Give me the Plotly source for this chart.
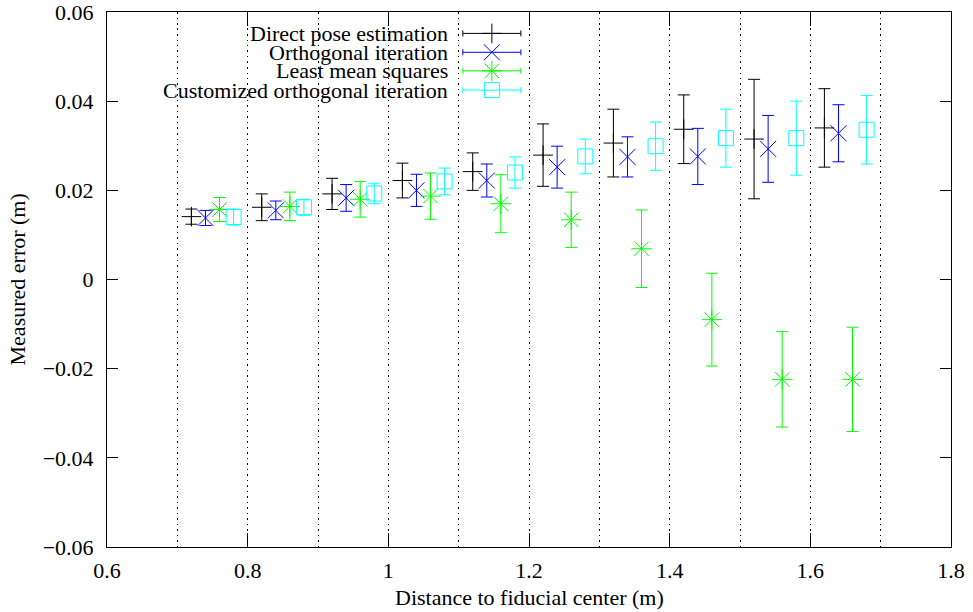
import plotly.graph_objects as go

# ---- data ----
distances = [0.7, 0.8, 0.9, 1.0, 1.1, 1.2, 1.3, 1.4, 1.5, 1.6]
series_names = ["Direct pose estimation", "Orthogonal iteration",
                "Least mean squares", "Customized orthogonal iteration"]
series_offsets = [0.02, 0.04, 0.06, 0.08]

dpe_mean = [0.0141, 0.0162, 0.0192, 0.0222, 0.0242, 0.0279, 0.0306, 0.0337, 0.0315, 0.0340]
dpe_err = [0.0017, 0.0030, 0.0035, 0.0039, 0.0042, 0.0070, 0.0076, 0.0077, 0.0134, 0.0088]
oi_mean = [0.0138, 0.0155, 0.0183, 0.0200, 0.0222, 0.0252, 0.0275, 0.0276, 0.0293, 0.0328]
oi_err = [0.0017, 0.0021, 0.0030, 0.0036, 0.0037, 0.0047, 0.0045, 0.0063, 0.0075, 0.0064]
lms_mean = [0.0157, 0.0164, 0.0180, 0.0187, 0.0170, 0.0134, 0.0069, -0.0090, -0.0224, -0.0224]
lms_err = [0.0027, 0.0032, 0.0040, 0.0052, 0.0065, 0.0062, 0.0087, 0.0104, 0.0107, 0.0117]
coi_mean = [0.0140, 0.0162, 0.0193, 0.0220, 0.0240, 0.0276, 0.0299, 0.0317, 0.0317, 0.0336]
coi_err = [0.0018, 0.0018, 0.0023, 0.0030, 0.0035, 0.0039, 0.0054, 0.0065, 0.0083, 0.0077]

x_tickvals = [0.6, 0.8, 1.0, 1.2, 1.4, 1.6, 1.8]
x_ticktext = ["0.6", "0.8", "1", "1.2", "1.4", "1.6", "1.8"]
y_tickvals = [-0.06, -0.04, -0.02, 0, 0.02, 0.04, 0.06]
y_ticktext = ["\u22120.06", "\u22120.04", "\u22120.02", "0", "0.02", "0.04", "0.06"]
x_title = "Distance to fiducial center (m)"
y_title = "Measured error (m)"

# ---- styles ----
colors = ["#000000", "#0000ff", "#00ff00", "#00ffff"]
symbols = ["cross-thin", "x-thin", "asterisk", "square-open"]
sizes = [14, 16, 17, 15]
means = [dpe_mean, oi_mean, lms_mean, coi_mean]
errs = [dpe_err, oi_err, lms_err, coi_err]

FONT = "Liberation Serif"
FS = 22

fig = go.Figure()
for name, off, m, e, c, s, sz in zip(series_names, series_offsets, means, errs, colors, symbols, sizes):
    fig.add_trace(go.Scatter(
        x=[d + off for d in distances], y=m, mode="markers", name=name,
        marker=dict(symbol=s, size=sz, color=c, line=dict(color=c, width=1)),
        error_y=dict(type="data", array=e, visible=True, color=c, thickness=1, width=6),
        showlegend=False,
    ))

# ---- gnuplot-style legend (text right-aligned, sample on its right) ----
leg_rows = [0.960, 0.9247, 0.890, 0.854]
leg_cx = 0.456
leg_half = 0.0344
for name, row, c, s, sz in zip(series_names, leg_rows, colors, symbols, sizes):
    fig.add_trace(go.Scatter(
        x=[leg_cx], y=[row], xaxis="x2", yaxis="y2", mode="markers",
        marker=dict(symbol=s, size=sz, color=c, line=dict(color=c, width=1)),
        error_x=dict(type="constant", value=leg_half, visible=True, color=c, thickness=1, width=3),
        showlegend=False, hoverinfo="skip",
    ))
    fig.add_annotation(x=0.406, y=row, xref="x2", yref="y2", text=name,
                       showarrow=False, xanchor="right", yanchor="middle",
                       font=dict(family=FONT, size=FS, color="black"))

# axis titles
fig.add_annotation(x=0.5, y=-0.0953, xref="paper", yref="paper", text=x_title,
                   showarrow=False, xanchor="center", yanchor="middle",
                   font=dict(family=FONT, size=FS, color="black"))
fig.add_annotation(x=-0.1055, y=0.5, xref="paper", yref="paper", text=y_title,
                   showarrow=False, xanchor="center", yanchor="middle", textangle=-90,
                   font=dict(family=FONT, size=FS, color="black"))

axis_common = dict(showline=True, linecolor="black", linewidth=1, mirror="ticks",
                   ticks="inside", tickcolor="black", zeroline=False, automargin=False,
                   ticklabeloverflow="allow",
                   tickfont=dict(family=FONT, size=FS, color="black"))

fig.update_layout(
    width=973, height=612,
    margin=dict(l=107, r=22, t=12, b=65),
    plot_bgcolor="white", paper_bgcolor="white",
    font=dict(family=FONT, size=FS, color="black"),
    xaxis=dict(range=[0.6, 1.8], tickvals=x_tickvals, ticktext=x_ticktext, ticklen=14,
               ticklabelstandoff=4,
               showgrid=True, gridcolor="black", gridwidth=1, griddash="1.5px,4px",
               minor=dict(dtick=0.1, tick0=0.6, showgrid=True, gridcolor="black",
                          gridwidth=1, griddash="1.5px,4px", ticks=""),
               **axis_common),
    yaxis=dict(range=[-0.06, 0.06], tickvals=y_tickvals, ticktext=y_ticktext, ticklen=11,
               ticklabelstandoff=8, showgrid=False,
               **axis_common),
    xaxis2=dict(overlaying="x", range=[0, 1], visible=False, fixedrange=True),
    yaxis2=dict(overlaying="y", range=[0, 1], visible=False, fixedrange=True),
)

fig.write_html("out.html", config={"displayModeBar": False},
               post_script="document.body.style.margin='0';document.body.style.padding='0';")
